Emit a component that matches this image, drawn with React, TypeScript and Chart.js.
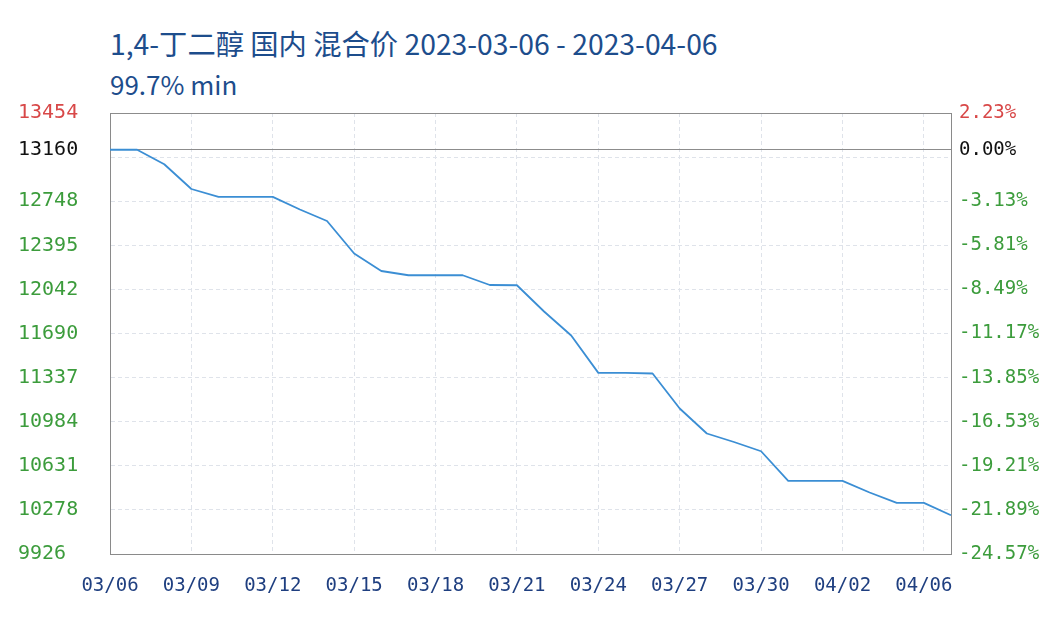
import React, { useEffect, useRef } from "react";
import { Chart, registerables } from "chart.js";

Chart.register(...registerables);

const titleText = "1,4-丁二醇 国内 混合价 2023-03-06 - 2023-04-06";
const subtitleText = "99.7% min";

const dates = [
  "03/06", "03/07", "03/08", "03/09", "03/10", "03/11", "03/12", "03/13",
  "03/14", "03/15", "03/16", "03/17", "03/18", "03/19", "03/20", "03/21",
  "03/22", "03/23", "03/24", "03/25", "03/26", "03/27", "03/28", "03/29",
  "03/30", "03/31", "04/01", "04/02", "04/03", "04/04", "04/05", "04/06",
];

const prices = [
  13160, 13160, 13044, 12846, 12783, 12783, 12783, 12682,
  12590, 12330, 12190, 12156, 12156, 12156, 12078, 12076,
  11866, 11674, 11375, 11375, 11370, 11090, 10890, 10822,
  10748, 10511, 10511, 10511, 10418, 10335, 10335, 10236,
];

const xTickLabels = [
  "03/06", "03/09", "03/12", "03/15", "03/18", "03/21",
  "03/24", "03/27", "03/30", "04/02", "04/06",
];

const basePrice = 13160;
const yMin = 9926;
const yMax = 13454;
const leftTickLabels = [
  "9926", "10278", "10631", "10984", "11337", "11690",
  "12042", "12395", "12748", "", "13454",
];
const rightTickLabels = [
  "-24.57%", "-21.89%", "-19.21%", "-16.53%", "-13.85%", "-11.17%",
  "-8.49%", "-5.81%", "-3.13%", "", "2.23%",
];
const baseLeftLabel = "13160";
const baseRightLabel = "0.00%";

const GREEN = "#3c9c3c";
const RED = "#d84848";
const BLACK = "#111111";
const NAVY = "#1f3f80";
const MONO = "'DejaVu Sans Mono', 'Liberation Mono', monospace";

const gridValues = leftTickLabels.map(
  (_, i) => yMin + ((yMax - yMin) * i) / (leftTickLabels.length - 1)
);

function buildTicks(scale: any) {
  const vals = [...gridValues, basePrice].sort((a, b) => a - b);
  scale.ticks = vals.map((v) => ({ value: v }));
}

function labelFor(value: number, side: "left" | "right") {
  if (Math.abs(value - basePrice) < 0.01) return side === "left" ? baseLeftLabel : baseRightLabel;
  const idx = gridValues.findIndex((g) => Math.abs(g - value) < 0.01);
  if (idx < 0) return "";
  return side === "left" ? leftTickLabels[idx] : rightTickLabels[idx];
}

function tickColor(ctx: any) {
  const v = ctx.tick ? ctx.tick.value : 0;
  if (Math.abs(v - basePrice) < 0.01) return BLACK;
  if (Math.abs(v - yMax) < 0.01) return RED;
  return GREEN;
}

export default function App() {
  const ref = useRef<HTMLCanvasElement | null>(null);

  useEffect(() => {
    if (!ref.current) return;
    const chart = new Chart(ref.current, {
      type: "line",
      data: {
        labels: dates,
        datasets: [
          {
            data: prices,
            borderColor: "#3b8ed4",
            borderWidth: 1.8,
            pointRadius: 0,
            tension: 0,
            borderJoinStyle: "round",
            fill: false,
          },
        ],
      },
      options: {
        animation: false,
        responsive: false,
        maintainAspectRatio: false,
        layout: { padding: { left: 18, top: 113, right: 0, bottom: 0 } },
        plugins: {
          legend: { display: false },
          tooltip: { enabled: false },
        },
        scales: {
          x: {
            type: "category",
            offset: false,
            afterFit: (s: any) => {
              s.height = 68;
            },
            grid: {
              drawTicks: false,
              color: "#dfe3ea",
              lineWidth: 1,
            },
            border: { display: true, color: "#8a8a8a", width: 1, dash: [4, 3] },
            ticks: {
              autoSkip: false,
              maxRotation: 0,
              padding: 21,
              color: NAVY,
              font: { family: MONO, size: 19 },
              callback: (_v: any, index: number) =>
                index % 3 === 0 ? xTickLabels[index / 3] : null,
            },
          },
          y: {
            type: "linear",
            position: "left",
            min: yMin,
            max: yMax,
            afterBuildTicks: buildTicks,
            afterFit: (s: any) => {
              s.width = 92;
            },
            grid: {
              drawTicks: false,
              color: (ctx: any) => {
                const v = ctx.tick ? ctx.tick.value : 0;
                if (Math.abs(v - basePrice) < 0.01) return "#8c8c8c";
                if (Math.abs(v - yMax) < 0.01) return "#8c8c8c";
                return "#dfe3ea";
              },
              lineWidth: 1,
            },
            border: {
              display: true,
              color: "#8a8a8a",
              width: 1,
              dash: (ctx: any) => {
                if (!ctx.tick) return [];
                const v = ctx.tick.value;
                if (Math.abs(v - basePrice) < 0.01 || Math.abs(v - yMax) < 0.01) return [];
                return [4, 3];
              },
            },
            ticks: {
              autoSkip: false,
              crossAlign: "far",
              padding: 0,
              color: tickColor,
              font: { family: MONO, size: 20 },
              callback: (v: any) => labelFor(Number(v), "left"),
            },
          },
          y2: {
            type: "linear",
            position: "right",
            min: yMin,
            max: yMax,
            afterBuildTicks: buildTicks,
            afterFit: (s: any) => {
              s.width = 105;
            },
            grid: { display: false, drawTicks: false },
            border: { display: true, color: "#8a8a8a", width: 1 },
            ticks: {
              autoSkip: false,
              padding: 8,
              color: tickColor,
              font: { family: MONO, size: 19 },
              callback: (v: any) => labelFor(Number(v), "right"),
            },
          },
        },
      } as any,
    });
    return () => chart.destroy();
  }, []);

  return (
    <div
      style={{
        position: "fixed",
        left: 0,
        top: 0,
        width: 1056,
        height: 622,
        background: "#ffffff",
      }}
    >
      <div
        style={{
          position: "absolute",
          left: 110,
          top: 23,
          fontFamily: "'Noto Sans CJK SC', 'Noto Sans', sans-serif",
          fontSize: 28.3,
          lineHeight: "40px",
          color: "#1d4d8c",
          whiteSpace: "nowrap",
        }}
      >
        {titleText}
      </div>
      <div
        style={{
          position: "absolute",
          left: 110,
          top: 64,
          fontFamily: "'Noto Sans CJK SC', 'Noto Sans', sans-serif",
          fontSize: 26,
          lineHeight: "40px",
          color: "#1d4d8c",
          whiteSpace: "nowrap",
        }}
      >
        {subtitleText}
      </div>
      <canvas
        ref={ref}
        width={1056}
        height={622}
        style={{ position: "absolute", left: 0, top: 0 }}
      />
    </div>
  );
}
